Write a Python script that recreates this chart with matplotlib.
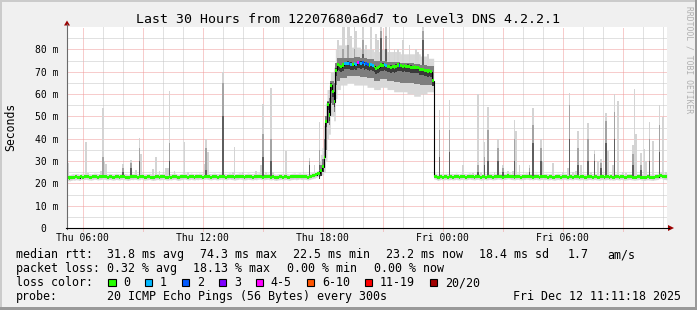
import numpy as np
import matplotlib
matplotlib.use("Agg")
import matplotlib.pyplot as plt
from matplotlib.patches import Rectangle, Polygon
from matplotlib.lines import Line2D

# ---------------- data ----------------
t_start = 5.2167          # hours after Thu 00:00 (left edge)
step_h = 5.0 / 60.0       # one probe every 300 s
hours_span = 30

median = [
    # 0-150 low
    22.5, 22.4, 22.6, 22.8, 22.7, 22.9, 22.8, 22.6, 23.0, 22.8,
    23.0, 23.1, 22.9, 22.8, 22.7, 22.9, 23.1, 23.0, 22.8, 22.9,
    23.0, 23.2, 23.1, 22.9, 22.8, 23.0, 22.9, 22.7, 22.8, 23.0,
    22.9, 22.8, 23.0, 23.1, 22.9, 22.8, 22.6, 22.8, 23.0, 22.9,
    23.1, 23.0, 22.8, 22.9, 23.2, 23.0, 22.7, 22.8, 22.9, 23.0,
    22.8, 22.6, 22.7, 22.9, 23.0, 22.8, 22.9, 23.1, 23.0, 22.8,
    22.7, 22.9, 22.8, 23.0, 23.1, 22.9, 22.6, 22.7, 22.9, 23.0,
    23.2, 23.0, 22.8, 22.9, 23.1, 22.9, 22.8, 23.0, 22.9, 23.1,
    23.0, 22.8, 23.1, 23.2, 23.0, 22.9, 22.8, 23.0, 23.1, 22.9,
    22.8, 23.0, 23.1, 22.9, 23.0, 22.8, 23.0, 23.2, 23.0, 22.9,
    22.7, 22.9, 23.0, 23.2, 23.1, 22.9, 22.8, 22.9, 23.1, 23.0,
    22.9, 22.8, 23.0, 22.9, 23.1, 23.2, 23.0, 22.8, 22.9, 23.0,
    23.1, 22.9, 22.8, 23.0, 22.7, 22.6, 22.8, 22.9, 23.0, 22.8,
    22.9, 23.0, 22.8, 22.7, 22.9, 23.0, 23.1, 22.9, 23.0, 23.2,
    23.0, 22.9, 23.1, 23.0, 22.8, 23.0, 23.2, 23.4, 23.6, 23.9,
    24.3,
    # 151-164 ramp
    24.5, 25.8, 27.4, 31.6, 47.6, 55.4, 50.6, 64.0, 61.0, 56.5,
    70.7, 73.3, 72.8, 72.2,
    # 165-219 plateau
    73.0, 73.7, 73.6, 73.8, 73.5, 73.4, 73.2, 73.6, 73.3, 74.2,
    74.0, 73.8, 74.1, 73.4, 73.6, 73.2, 73.0, 73.1, 72.8, 72.4,
    71.5, 71.8, 72.3, 73.0, 72.9, 73.1, 72.8, 72.2, 72.4, 72.0,
    72.3, 72.1, 72.5, 73.0, 72.9, 72.6, 72.4, 72.6, 72.3, 72.5,
    72.2, 72.0, 71.9, 72.1, 71.7, 71.8, 71.2, 70.9, 71.0, 70.6,
    70.5, 70.3, 70.4, 70.0, 66.0,
    # 220-359 low
    23.2, 23.0, 22.6, 22.8, 23.0, 22.7, 22.9, 23.0, 22.8, 22.9,
    23.0, 22.8, 22.9, 23.1, 22.9, 22.8, 23.0, 23.1, 22.9, 22.8,
    23.0, 23.2, 23.0, 22.9, 22.8, 23.0, 23.1, 22.9, 22.7, 22.9,
    23.0, 22.8, 22.9, 23.1, 23.0, 22.8, 22.9, 23.0, 23.2, 23.1,
    22.9, 22.8, 23.0, 23.1, 23.3, 23.2, 23.0, 22.9, 22.8, 23.0,
    23.1, 22.9, 22.8, 22.9, 23.0, 23.2, 23.1, 22.9, 23.0, 22.8,
    23.0, 23.1, 22.9, 22.8, 23.0, 23.1, 22.9, 23.0, 22.8, 22.9,
    23.0, 22.8, 22.7, 22.9, 23.0, 22.9, 22.8, 23.0, 23.1, 22.9,
    22.8, 23.0, 22.9, 22.8, 23.1, 23.0, 22.9, 22.8, 22.9, 23.0,
    22.8, 22.7, 22.9, 23.0, 22.9, 22.8, 23.0, 22.9, 22.8, 22.7,
    22.9, 23.0, 22.8, 22.9, 23.0, 22.8, 22.9, 22.7, 22.8, 23.0,
    22.9, 22.8, 23.0, 22.9, 22.7, 22.8, 22.9, 23.0, 22.9, 22.8,
    22.7, 22.8, 22.9, 23.0, 22.8, 22.7, 22.6, 22.8, 22.9, 22.8,
    22.7, 22.6, 22.8, 22.9, 23.0, 23.4, 23.6, 23.2, 23.0, 22.9,
]

# lost pings per probe (only non-zero entries)
loss_idx = [166, 167, 168, 169, 170, 172, 173, 174, 175, 176, 177, 178, 179,
            180, 182, 183, 190, 191, 199]
loss_cnt = [1, 1, 1, 2, 1, 1, 1, 4, 2, 1, 2, 1, 2, 2, 1, 1, 1, 1, 2]

# smoke spikes: probe index, highest ping, upper of mid pings, upper of dark pings (ms)
spike_idx = [0, 11, 12, 20, 21, 22, 23, 33, 38, 41, 43, 44, 51, 53, 55,
             59, 60, 61, 64, 70, 72, 82, 83, 84, 93, 99, 100, 105, 113, 116, 117,
             119, 122, 123, 131, 145, 148, 151,
             162, 165, 166, 168, 169, 170, 172, 173, 177, 179, 182, 185, 186, 188,
             191, 193, 196, 198, 201, 205, 209, 210, 213, 216,
             223, 229, 237, 243, 246, 248, 250, 252, 256, 258, 261, 264, 267, 268,
             269, 271, 277, 279, 284, 285, 291, 297, 300, 301, 303, 305, 306, 308,
             312, 314, 316, 318, 320, 323, 324, 327, 328, 330, 333, 335, 339, 340,
             341, 344, 346, 347, 349, 351, 355, 357, 359]
spike_top = [29, 38.6, 24.5, 25.5, 53.6, 30, 28.5, 28.5, 30.4, 26, 40.1, 33, 26.6, 31.9, 25.5,
             27, 27, 61.3, 25.5, 38.4, 25, 28.5, 40, 34, 70, 25, 36.4, 25, 25.5, 28.3, 55.5,
             25, 62.8, 25, 34.5, 31.5, 28, 47.6,
             84, 90, 90, 90, 90, 86, 90, 88, 90, 82, 90, 87, 84, 90,
             90, 90, 80, 80, 84, 82, 80, 79, 90, 78,
             52.8, 57.3, 28, 24.5, 59.8, 25, 38.4, 54.3, 25, 39.8, 28, 25.5, 25.5, 48.3,
             43.4, 28, 28, 53.9, 39.8, 30, 29, 25, 27, 60.3, 25, 25.5, 43.4, 28,
             47.1, 25, 34.9, 30, 31, 51.3, 34.5, 28, 59.8, 57, 25, 24.5, 37.2, 62.2,
             42, 33.7, 35.2, 30, 47.3, 38.9, 55, 49.7, 25]
spike_mid = [0, 0, 0, 0, 32, 0, 0, 27, 29, 0, 36, 0, 0, 0, 0,
             0, 0, 38, 0, 0, 0, 0, 36, 0, 65, 0, 0, 0, 0, 0, 42,
             0, 40, 0, 0, 30, 0, 35,
             0, 80, 0, 82, 0, 0, 80, 0, 84, 0, 0, 0, 0, 88,
             86, 0, 0, 0, 0, 0, 0, 0, 88, 0,
             44, 44, 0, 0, 28, 0, 32, 44, 0, 36, 27, 0, 0, 40,
             0, 0, 27, 46, 36, 0, 0, 0, 0, 55, 0, 0, 36, 0,
             40, 0, 33, 0, 29, 48, 0, 0, 52, 0, 0, 0, 33, 0,
             0, 28, 0, 0, 40, 0, 46, 0, 0]
spike_dark = [0, 0, 0, 0, 0, 0, 0, 25, 27, 0, 30, 0, 0, 0, 0,
              0, 0, 30, 0, 0, 0, 0, 26, 0, 50, 0, 0, 0, 0, 0, 32,
              0, 30, 0, 0, 28, 0, 28,
              0, 0, 0, 0, 0, 0, 76, 0, 78, 0, 0, 0, 0, 85,
              80, 0, 0, 0, 0, 0, 0, 0, 84, 0,
              32, 34, 0, 0, 25, 0, 28, 30, 0, 30, 25, 0, 0, 30,
              0, 0, 25, 38, 30, 0, 0, 0, 0, 40, 0, 0, 28, 0,
              30, 0, 30, 0, 27, 38, 0, 0, 40, 0, 0, 0, 28, 0,
              0, 26, 0, 0, 30, 0, 34, 0, 0]

# wide smoke during the high-latency period: first idx, last idx, outer lo, inner lo, inner hi, outer hi
band_first = [151, 152, 153, 154, 155, 156, 157, 158, 159, 160, 161, 162, 164, 168,
              172, 176, 180, 184, 188, 192, 196, 200, 204, 208, 212, 216]
band_last = [151, 152, 153, 154, 155, 156, 157, 158, 159, 160, 161, 163, 167, 171,
             175, 179, 183, 187, 191, 195, 199, 203, 207, 211, 215, 219]
band_olo = [23, 23.5, 24, 25, 30, 40, 42, 50, 50, 48, 58, 62, 64, 65,
            64, 64, 63, 62, 63, 62, 61, 61, 60, 59, 60, 61]
band_ilo = [23.5, 24.5, 25.5, 27, 35, 47, 46, 56, 55, 52, 64, 66, 67, 68,
            68, 67.5, 67, 66, 66.5, 66, 65.5, 65, 65, 64.5, 64, 64]
band_ihi = [26, 28, 31, 40, 50, 57, 58, 66, 66, 65, 74, 76, 76, 76,
            76.5, 76, 75.5, 75, 75, 74.5, 74.5, 74, 74, 73.5, 73, 72.5]
band_ohi = [30, 33, 36, 46, 56, 62, 62, 70, 70, 72, 80, 82, 82, 81,
            81, 80, 80, 79, 80, 79, 79, 78, 78, 78, 77, 76]

xtick_hours = [6, 12, 18, 24, 30]
xtick_labels = ["Thu 06:00", "Thu 12:00", "Thu 18:00", "Fri 00:00", "Fri 06:00"]
ytick_vals = [0, 10, 20, 30, 40, 50, 60, 70, 80]
ytick_labels = ["0  ", "10 m", "20 m", "30 m", "40 m", "50 m", "60 m", "70 m", "80 m"]

loss_names = ["0", "1", "2", "3", "4-5", "6-10", "11-19", "20/20"]
loss_colors = ["#26ff00", "#00b8ff", "#0059ff", "#7e00ff", "#ff00ff", "#ff5500", "#ff0000", "#a10000"]

title = "Last 30 Hours from 12207680a6d7 to Level3 DNS 4.2.2.1"
rtt_stats = ["31.8 ms avg", "74.3 ms max", "22.5 ms min", "23.2 ms now", "18.4 ms sd", "1.7", "am/s"]
loss_stats = ["0.32 % avg", "18.13 % max", "0.00 % min", "0.00 % now"]
probe_text = "20 ICMP Echo Pings (56 Bytes) every 300s"
stamp_text = "Fri Dec 12 11:11:18 2025"

# ---------------- figure ----------------
W, H = 697, 310
MONO = "DejaVu Sans Mono"
plt.rcParams["font.family"] = [MONO, "DejaVu Sans"]
plt.rcParams["lines.scale_dashes"] = False

def fx(x):
    return x / W

def fy(y):
    return 1 - y / H

fig = plt.figure(figsize=(W / 100, H / 100), dpi=100)
fig.patch.set_facecolor("#f0f0f0")

# 3D border
fig.add_artist(Rectangle((0, fy(2)), 1, 2 / H, transform=fig.transFigure, color="#cbcbcb", lw=0))
fig.add_artist(Rectangle((0, 0), 2 / W, 1, transform=fig.transFigure, color="#cbcbcb", lw=0))
fig.add_artist(Rectangle((0, 0), 1, 3 / H, transform=fig.transFigure, color="#999999", lw=0))
fig.add_artist(Rectangle((1 - 2 / W, 0), 2 / W, 1, transform=fig.transFigure, color="#999999", lw=0))

ax = fig.add_axes([fx(67), fy(228), (667 - 67) / W, (228 - 27) / H])
ax.set_facecolor("white")
for s in ax.spines.values():
    s.set_visible(False)

t_end = t_start + hours_span
ax.set_xlim(t_start, t_end)
ax.set_ylim(0, 90)

# grid
minor_dash = (0, (0.72, 0.72))
for h in range(int(np.ceil(t_start)), int(t_end) + 1):
    if h % 3 == 0:
        ax.axvline(h, ymin=-0.015, ymax=1, color="#f09a9a", lw=0.72, ls=minor_dash, zorder=1, clip_on=False)
    else:
        ax.axvline(h, color="#c4c4c4", lw=0.72, ls=minor_dash, zorder=1)
for v in range(5, 90, 5):
    if v % 10 == 0:
        ax.axhline(v, color="#f09a9a", lw=0.72, ls=minor_dash, zorder=1)
    else:
        ax.axhline(v, color="#c4c4c4", lw=0.72, ls=minor_dash, zorder=1)

n = len(median)
med = np.array(median, dtype=float)
edges = t_start + step_h * np.arange(n + 1)


def fill_runs(mask, lo, hi, color, z):
    idx = np.flatnonzero(mask)
    if idx.size == 0:
        return
    splits = np.split(idx, np.flatnonzero(np.diff(idx) > 1) + 1)
    for run in splits:
        a, b = run[0], run[-1] + 1
        ax.fill_between(edges[a:b + 1], np.append(lo[a:b], lo[b - 1]), np.append(hi[a:b], hi[b - 1]),
                        step="post", color=color, lw=0, zorder=z)


# smoke: base band
olo = med - 1.3
ohi = med + 1.5
ilo = np.full(n, np.nan)
ihi = np.full(n, np.nan)
in_band = np.zeros(n, dtype=bool)
for a, b, v1, v2, v3, v4 in zip(band_first, band_last, band_olo, band_ilo, band_ihi, band_ohi):
    olo[a:b + 1] = v1
    ilo[a:b + 1] = v2
    ihi[a:b + 1] = v3
    ohi[a:b + 1] = v4
    in_band[a:b + 1] = True
fill_runs(np.ones(n, dtype=bool), olo, ohi, "#d8d8d8", 2)

# spikes
sidx = np.array(spike_idx)
for vals, col, z in ((spike_top, "#d4d4d4", 2.2), (spike_mid, "#a4a4a4", 2.4), (spike_dark, "#5e5e5e", 2.6)):
    v = np.array(vals, dtype=float)
    ok = v > med[sidx]
    ax.bar(edges[sidx[ok]], v[ok] - med[sidx[ok]], bottom=med[sidx[ok]], width=step_h,
           align="edge", color=col, lw=0, zorder=z)

fill_runs(in_band, ilo, ihi, "#7e7e7e", 3)
fill_runs(in_band, med - 2.5, med + 0.8, "#3a3a3a", 3.2)

# median line
ax.stairs(med, edges, baseline=None, color="black", lw=0.8, zorder=5)

# loss-coloured median marks
loss = np.zeros(n, dtype=int)
loss[np.array(loss_idx)] = np.array(loss_cnt)
bounds = [0, 1, 2, 3, 5, 10, 19, 20]
cls = np.array([next(k for k, b in enumerate(bounds) if c <= b) for c in loss])
for k, col in enumerate(loss_colors):
    fill_runs(cls == k, med - 0.7, med + 0.7, col, 6)

# ticks
ax.set_xticks(xtick_hours)
ax.set_xticklabels(xtick_labels, fontsize=7, family=MONO)
ax.set_yticks(ytick_vals)
ax.set_yticklabels(ytick_labels, fontsize=7, family=MONO)
ax.tick_params(axis="x", length=0, pad=3.5)
ax.tick_params(axis="y", length=0, pad=5.8)

# axes lines with arrows
fig.add_artist(Line2D([fx(67), fx(67)], [fy(228.5), fy(24)], transform=fig.transFigure, color="#6a6a6a", lw=0.8))
fig.add_artist(Line2D([fx(66), fx(669)], [fy(228), fy(228)], transform=fig.transFigure, color="black", lw=0.8))
fig.add_artist(Polygon([(fx(64), fy(25.5)), (fx(70), fy(25.5)), (fx(67), fy(20.5))], closed=True,
                       transform=fig.transFigure, color="#9b0000", lw=0))
fig.add_artist(Polygon([(fx(668), fy(225)), (fx(668), fy(231)), (fx(674), fy(228))], closed=True,
                       transform=fig.transFigure, color="#9b0000", lw=0))

# titles
fig.text(fx(347.5), fy(19.5), title, ha="center", va="center", fontsize=9.5, family=MONO)
fig.text(fx(11), fy(127), "Seconds", rotation=90, ha="center", va="center", fontsize=8.3, family=MONO)
fig.text(fx(688.5), fy(60), "RRDTOOL / TOBI OETIKER", rotation=270, ha="center", va="center",
         fontsize=5.8, color="#b0b0b0", family=MONO)

# legend
LF = 8.35
CH = 6.98  # monospace advance, px
def ltxt(x, ybase, s, **kw):
    fig.text(fx(x), fy(ybase), s, ha="left", va="baseline", fontsize=LF, family=MONO, **kw)

ltxt(16, 258, "median rtt:")
for x, s in zip([107, 200, 293, 386, 479, 568, 607], rtt_stats):
    ltxt(x, 258, s)
ltxt(16, 272, "packet loss:")
for x, s in zip([107, 193, 287, 374], loss_stats):
    ltxt(x, 272, s)
ltxt(16, 286, "loss color:")
bx = 108.0
for name, col in zip(loss_names, loss_colors):
    fig.add_artist(Rectangle((fx(bx), fy(286)), 7.5 / W, 7.5 / H, transform=fig.transFigure,
                             facecolor=col, edgecolor="black", lw=0.8))
    ltxt(bx + 15, 286, name)
    bx += 15 + len(name) * CH + 15
ltxt(16, 300, "probe:")
ltxt(107, 300, probe_text)
fig.text(fx(681), fy(300), stamp_text, ha="right", va="baseline", fontsize=LF, family=MONO)

fig.savefig("out.png", dpi=100, facecolor=fig.get_facecolor())
